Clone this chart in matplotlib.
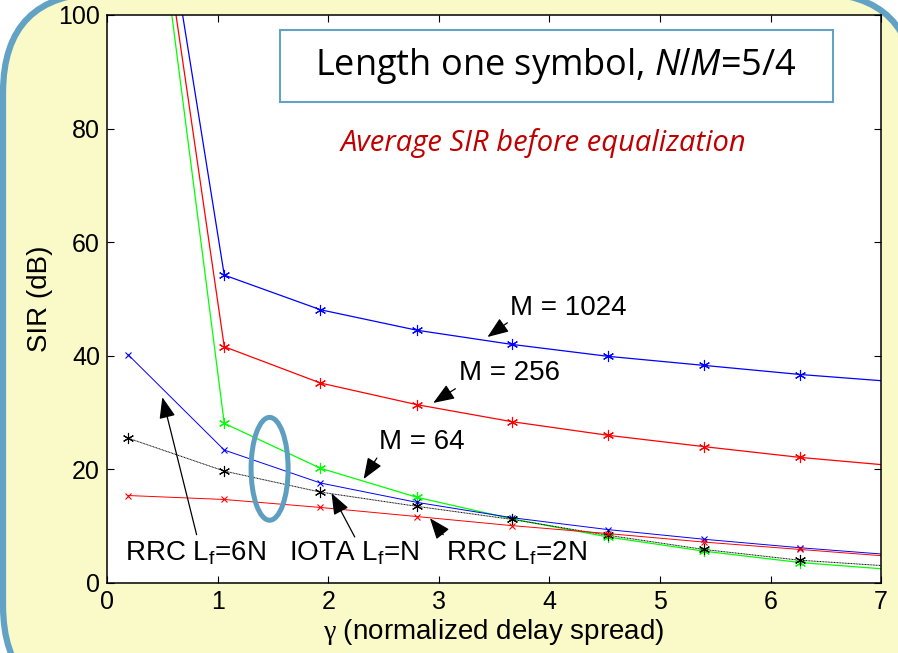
import matplotlib
matplotlib.use("Agg")
import matplotlib.pyplot as plt
from matplotlib.patches import Ellipse, Rectangle, FancyBboxPatch, ArrowStyle

plt.rcParams["font.family"] = ["Liberation Sans", "DejaVu Sans"]
plt.rcParams["mathtext.fontset"] = "custom"
plt.rcParams["mathtext.rm"] = "Liberation Sans"
plt.rcParams["mathtext.it"] = "Open Sans:italic"
plt.rcParams["mathtext.sf"] = "Liberation Serif"

# normalized delay spread
gamma = [0.19, 1.06, 1.93, 2.80, 3.66, 4.53, 5.40, 6.27, 7.14]

# SIR (dB) before equalization
sir_m1024 = [160, 54.2, 48.1, 44.5, 42.0, 39.9, 38.3, 36.7, 35.4]
sir_m256 = [158, 41.6, 35.2, 31.4, 28.4, 26.0, 24.0, 22.1, 20.6]
sir_m64 = [160, 28.1, 20.2, 15.1, 11.3, 8.1, 5.6, 3.6, 2.3]
sir_rrc6 = [40.2, 23.4, 17.6, 14.2, 11.5, 9.4, 7.7, 6.2, 4.9]
sir_iota = [25.5, 19.7, 16.0, 13.5, 11.2, 8.4, 5.9, 4.0, 2.9]
sir_rrc2 = [15.4, 14.7, 13.3, 11.7, 10.1, 8.7, 7.2, 5.9, 4.6]

xticks = [0, 1, 2, 3, 4, 5, 6, 7]
yticks = [0, 20, 40, 60, 80, 100]

BORDER = "#62a2c4"
YELLOW = "#fafac8"

fig = plt.figure(figsize=(8.98, 6.53), dpi=100)
fig.patch.set_facecolor("white")

# rounded yellow panel behind everything (pixel coords)
panel = FancyBboxPatch(
    (3, -52), 912, 712,
    boxstyle="round,pad=0,rounding_size=100",
    transform=None, facecolor=YELLOW, edgecolor=BORDER, linewidth=4.5,
    zorder=-10,
)
fig.patches.append(panel)

ax = fig.add_axes([0.1192, 0.1072, 0.862, 0.870])
ax.set_zorder(1)
ax.set_facecolor("white")

asterisk = (6, 2, 0)
ax.plot(gamma, sir_m1024, color="b", lw=0.9, marker=asterisk, ms=8, mew=0.8)
ax.plot(gamma, sir_m256, color="r", lw=0.9, marker=asterisk, ms=8, mew=0.8)
ax.plot(gamma, sir_m64, color="#00ff00", lw=0.9, marker=asterisk, ms=8, mew=0.8)
ax.plot(gamma, sir_rrc6, color="b", lw=0.7, marker="x", ms=5, mew=0.8)
ax.plot(gamma, sir_iota, color="k", lw=0.7, ls=(0, (1, 0.6)), marker=asterisk,
        ms=8, mew=0.8)
ax.plot(gamma, sir_rrc2, color="r", lw=0.7, marker="x", ms=5, mew=0.8)

ax.set_xlim(0, 7)
ax.set_ylim(0, 100)
ax.set_xticks(xticks)
ax.set_yticks(yticks)
ax.tick_params(direction="in", length=5, width=0.8, top=True, right=True,
               labelsize=18, pad=5)
for s in ax.spines.values():
    s.set_linewidth(1.1)

ax.set_xlabel(r"$\mathsf{\gamma}$ (normalized delay spread)", fontsize=20,
              labelpad=2)
ax.set_ylabel("SIR (dB)", fontsize=20, labelpad=4)

# title box
ax.add_patch(Rectangle((1.565, 84.7), 5.0, 12.7, facecolor="white",
                       edgecolor=BORDER, lw=1.5, zorder=5))
ax.text(4.06, 91.0, "Length one symbol, $N/M$=5/4", family="Open Sans",
        fontsize=26, ha="center", va="center", zorder=6)
ax.text(3.95, 77.5, "Average SIR before equalization", family="Open Sans",
        style="italic", color="#c00000", fontsize=21, ha="center",
        va="center")

head = ArrowStyle("-|>", head_length=1.3, head_width=0.5)


def arrow(tip, tail):
    ax.annotate("", xy=tip, xytext=tail,
                arrowprops=dict(arrowstyle=head, mutation_scale=10, color="k",
                                lw=0.9, shrinkA=0, shrinkB=0))


ax.text(4.17, 48.4, "M = 1024", fontsize=20, ha="center", va="center")
arrow((3.44, 43.3), (3.62, 45.8))
ax.text(3.64, 37.0, "M = 256", fontsize=20, ha="center", va="center")
arrow((2.95, 31.7), (3.15, 34.2))
ax.text(2.85, 24.8, "M = 64", fontsize=20, ha="center", va="center")
arrow((2.32, 18.3), (2.44, 22.0))

ax.text(0.80, 5.3, r"RRC L$_\mathrm{f}$=6N", fontsize=20, ha="center",
        va="center")
arrow((0.50, 32.7), (0.81, 8.5))
ax.text(2.23, 5.3, r"IOTA L$_\mathrm{f}$=N", fontsize=20, ha="center",
        va="center")
arrow((2.03, 15.8), (2.24, 8.1))
ax.text(3.70, 5.3, r"RRC L$_\mathrm{f}$=2N", fontsize=20, ha="center",
        va="center")
arrow((2.92, 11.4), (3.04, 8.5))

ax.add_patch(Ellipse((1.47, 20.1), 0.335, 18.1, fill=False, edgecolor="#5e9ec0",
                     lw=3.6, zorder=4))

fig.savefig("out.png", dpi=100, facecolor=fig.get_facecolor())
